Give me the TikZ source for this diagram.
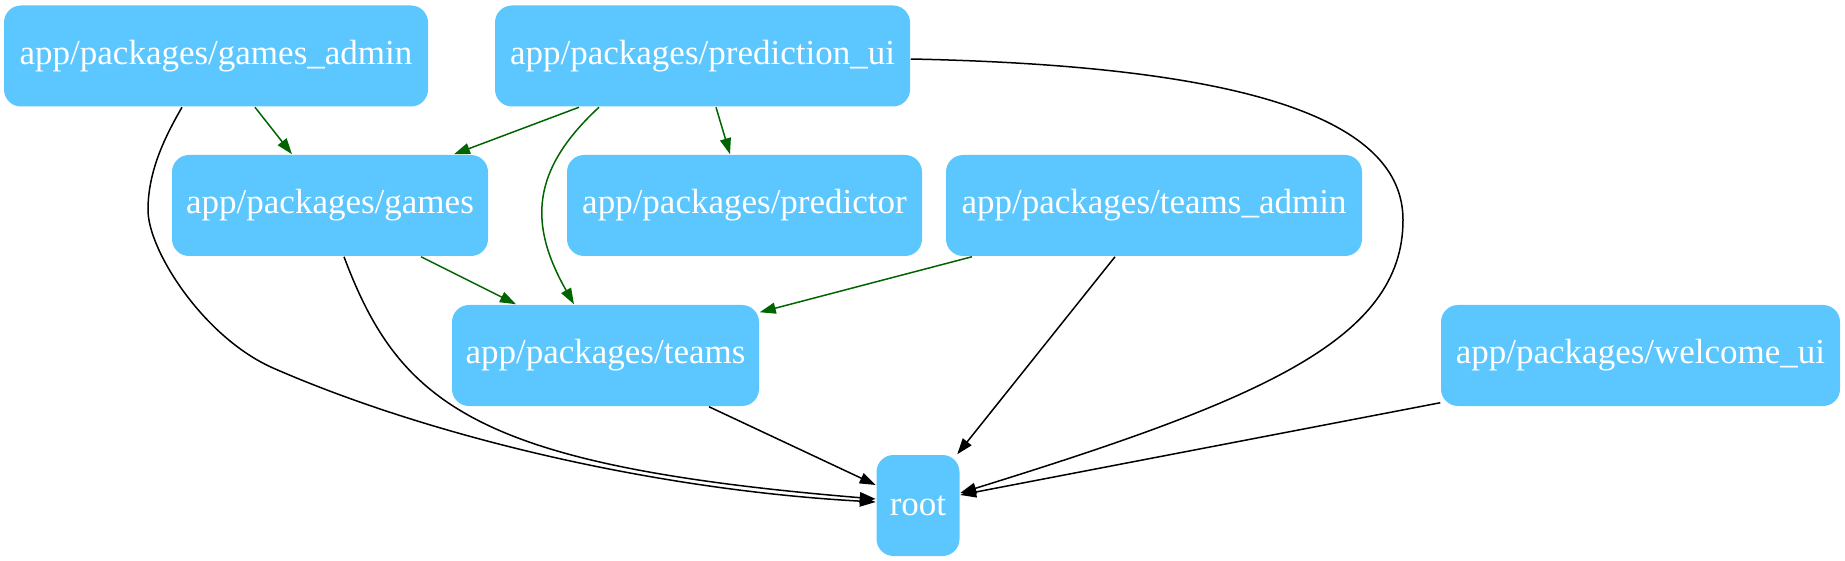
\documentclass[tikz,border=0pt]{standalone}
\usepackage{fontspec}
\setmainfont{Liberation Serif}
\usepackage{tikz}
\usetikzlibrary{arrows.meta}

\definecolor{pkgblue}{RGB}{92,199,255}
\definecolor{depgreen}{RGB}{0,100,0}

\begin{document}
\begin{tikzpicture}[x=1pt, y=-1pt, line width=1.5pt,
    pkg/.style={fill=pkgblue, rounded corners=17pt, inner sep=0pt,
      minimum height=101pt, text=white, font=\fontsize{35}{42}\selectfont},
    dep/.style={draw=depgreen, -{Triangle[length=16pt,width=11pt]}},
    toroot/.style={draw=black, -{Triangle[length=16pt,width=11pt]}}]
  \useasboundingbox (0,0) rectangle (1845,561);
  % Packages
  \node[pkg, minimum width=424pt] (games_admin) at (216,56) {app/packages/games\_admin};
  \node[pkg, minimum width=415pt] (prediction_ui) at (702.5,56) {app/packages/prediction\_ui};
  \node[pkg, minimum width=316pt] (games) at (330,205.5) {app/packages/games};
  \node[pkg, minimum width=355pt] (predictor) at (744.5,205.5) {app/packages/predictor};
  \node[pkg, minimum width=416pt] (teams_admin) at (1154,205.5) {app/packages/teams\_admin};
  \node[pkg, minimum width=307pt] (teams) at (605.5,355.5) {app/packages/teams};
  \node[pkg, minimum width=399pt] (welcome_ui) at (1640.5,355.5) {app/packages/welcome\_ui};
  \node[pkg, minimum width=83pt] (root) at (918,505.5) {root};
  % Dependencies between packages (green)
  \draw[dep] ([xshift=39pt]games_admin.south) -- ([xshift=-38pt]games.north);
  \draw[dep] ([xshift=-123.5pt]prediction_ui.south) -- ([xshift=124pt]games.north);
  \draw[dep] ([xshift=-103.5pt]prediction_ui.south) .. controls (530,171) and (529,225) .. ([xshift=-31.5pt]teams.north);
  \draw[dep] ([xshift=13.5pt]prediction_ui.south) -- ([xshift=-14.5pt]predictor.north);
  \draw[dep] ([xshift=91pt]games.south) -- ([xshift=-89.5pt]teams.north);
  \draw[dep] ([xshift=-182pt]teams_admin.south) -- ([yshift=-8pt]teams.north east);
  % Dependencies on root (black)
  \draw[toroot] ([xshift=-34pt]games_admin.south) .. controls (166,135) and (148,170) .. (148,210)
    .. controls (148,250) and (203,337) .. (273,368)
    .. controls (433,438) and (658,490) .. ([yshift=3.5pt]root.west);
  \draw[toroot] ([xshift=14pt]games.south) .. controls (400,406) and (478,466) .. ([yshift=6.5pt]root.west);
  \draw[toroot] ([xshift=103.5pt]teams.south) -- ([yshift=20.5pt]root.west);
  \draw[toroot] ([yshift=-3pt]prediction_ui.east) .. controls (1250,66) and (1403,120) .. (1403,220)
    .. controls (1403,340) and (1260,400) .. ([yshift=12.5pt]root.east);
  \draw[toroot] ([xshift=-39pt]teams_admin.south) -- ([xshift=-3pt]root.north east);
  \draw[toroot] ([yshift=4pt]welcome_ui.south west) -- ([yshift=10.5pt]root.east);
\end{tikzpicture}
\end{document}
